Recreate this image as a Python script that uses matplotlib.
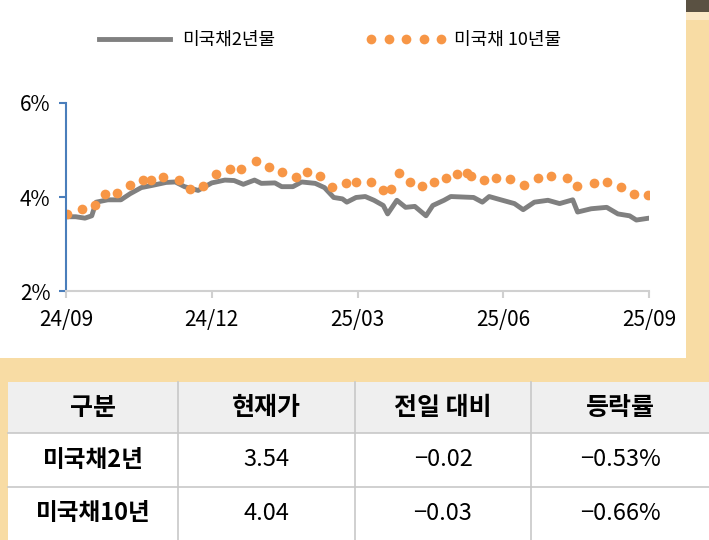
import matplotlib
matplotlib.use("Agg")
import matplotlib.pyplot as plt
from matplotlib import font_manager
from matplotlib.patches import Rectangle

cjk = sorted({f.name for f in font_manager.fontManager.ttflist if "CJK" in f.name})
pref = [n for n in ["Noto Sans CJK KR", "Noto Sans CJK JP", "Noto Sans CJK SC"] if n in cjk]
plt.rcParams["font.family"] = (pref or cjk) + ["DejaVu Sans"]

# months since 24/09
t10 = [0.02, 0.32, 0.60, 0.80, 1.06, 1.32, 1.58, 1.74, 1.99, 2.32, 2.55, 2.83, 3.09, 3.37,
       3.61, 3.91, 4.18, 4.45, 4.73, 4.97, 5.22, 5.48, 5.76, 5.97, 6.28, 6.53, 6.69, 6.86,
       7.09, 7.32, 7.58, 7.83, 8.04, 8.25, 8.34, 8.60, 8.85, 9.13, 9.43, 9.72, 9.98, 10.32,
       10.51, 10.86, 11.14, 11.43, 11.69, 11.98]
y10 = [3.64, 3.75, 3.82, 4.07, 4.09, 4.25, 4.37, 4.37, 4.43, 4.36, 4.18, 4.24, 4.48, 4.59,
       4.60, 4.77, 4.63, 4.54, 4.43, 4.54, 4.45, 4.22, 4.30, 4.32, 4.32, 4.14, 4.16, 4.50,
       4.32, 4.23, 4.32, 4.41, 4.48, 4.52, 4.45, 4.36, 4.41, 4.38, 4.25, 4.40, 4.45, 4.40,
       4.23, 4.29, 4.31, 4.22, 4.07, 4.04]

t2 = [0, 0.20, 0.39, 0.53, 0.62, 0.86, 1.13, 1.32, 1.55, 1.79, 2.06, 2.25, 2.44, 2.72, 3.00,
      3.27, 3.46, 3.65, 3.88, 4.02, 4.30, 4.44, 4.67, 4.85, 5.13, 5.32, 5.51, 5.69, 5.78,
      5.97, 6.16, 6.34, 6.53, 6.62, 6.81, 6.99, 7.18, 7.41, 7.55, 7.78, 7.92, 8.39, 8.57,
      8.71, 8.95, 9.23, 9.41, 9.64, 9.92, 10.16, 10.43, 10.53, 10.81, 11.13, 11.36, 11.60,
      11.74, 12.0]
y2 = [3.58, 3.58, 3.55, 3.60, 3.89, 3.94, 3.94, 4.07, 4.20, 4.25, 4.31, 4.32, 4.22, 4.14, 4.30,
      4.36, 4.35, 4.27, 4.36, 4.29, 4.30, 4.22, 4.22, 4.32, 4.29, 4.20, 3.99, 3.96, 3.89,
      3.99, 4.01, 3.93, 3.82, 3.64, 3.93, 3.78, 3.80, 3.60, 3.82, 3.93, 4.01, 3.99, 3.89,
      4.01, 3.94, 3.86, 3.73, 3.89, 3.93, 3.86, 3.94, 3.68, 3.75, 3.78, 3.64, 3.60, 3.51,
      3.55]

x_ticks = [0, 3, 6, 9, 12]
x_labels = ["24/09", "24/12", "25/03", "25/06", "25/09"]
y_ticks = [2, 4, 6]
y_labels = ["2%", "4%", "6%"]

col_heads = ["구분", "현재가", "전일 대비", "등락률"]
rows = [["미국채2년", "3.54", "−0.02", "−0.53%"],
        ["미국채10년", "4.04", "−0.03", "−0.66%"]]

W, H = 709, 540
fig = plt.figure(figsize=(W / 100, H / 100), dpi=100)
fig.patch.set_facecolor("#f8dca4")


def px(x0, y0, w, h, **kw):
    fig.patches.append(Rectangle((x0 / W, 1 - (y0 + h) / H), w / W, h / H,
                                 transform=fig.transFigure, zorder=-5, **kw))


px(0, 0, 686, 358, facecolor="white", edgecolor="none")
px(686, 0, 23, 12, facecolor="#5a5142", edgecolor="none")
px(686, 12, 23, 8, facecolor="#fbe8c6", edgecolor="none")

ax = fig.add_axes([66 / W, 1 - 291 / H, 583 / W, 188 / H])
ax.set_facecolor("none")
ax.plot(t2, y2, color="#808080", lw=3.5, label="미국채2년물")
ax.plot(t10, y10, "o", color="#f79646", ms=7, mec="none", label="미국채 10년물")
ax.set_xlim(0, 12)
ax.set_ylim(2, 6)
ax.set_xticks(x_ticks, x_labels)
ax.set_yticks(y_ticks, y_labels)
for s in ["top", "right"]:
    ax.spines[s].set_visible(False)
ax.spines["left"].set_color("#4a7ebb")
ax.spines["left"].set_linewidth(1.5)
ax.spines["bottom"].set_color("#d0d0d0")
ax.spines["bottom"].set_linewidth(1.5)
ax.tick_params(axis="y", colors="#4a7ebb", length=5, width=1.5, labelcolor="black",
               labelsize=15, pad=6)
ax.tick_params(axis="x", colors="#d0d0d0", length=5, width=1.5, labelcolor="black",
               labelsize=15, pad=8)
ax.legend(loc="lower center", bbox_to_anchor=(0.5 - 30 / 583, 1.2), ncol=2, frameon=False,
          fontsize=13, handlelength=4.5, columnspacing=5, handletextpad=0.4,
          numpoints=5)

# table
cols = [8, 178, 355, 531, 709]
row_y = [382, 433, 487, 540]
px(8, 382, 701, 51, facecolor="#efefef", edgecolor="none")
px(8, 433, 701, 107, facecolor="white", edgecolor="none")
for y in row_y[1:3]:
    fig.add_artist(plt.Line2D([8 / W, 1], [1 - y / H] * 2, color="#c8c8c8", lw=1.2,
                              transform=fig.transFigure))
for x in cols[1:4]:
    fig.add_artist(plt.Line2D([x / W] * 2, [0, 1 - 382 / H], color="#c8c8c8", lw=1.2,
                              transform=fig.transFigure))
for i, h in enumerate(col_heads):
    fig.text((cols[i] + cols[i + 1]) / 2 / W, 1 - 408 / H, h, ha="center", va="center",
             fontsize=18, fontweight="bold")
for r, row in enumerate(rows):
    yc = (row_y[r + 1] + row_y[r + 2]) / 2
    for i, v in enumerate(row):
        fig.text((cols[i] + cols[i + 1]) / 2 / W, 1 - yc / H, v, ha="center", va="center",
                 fontsize=17, fontweight="bold" if i == 0 else "normal")

fig.savefig("out.png", dpi=100)
